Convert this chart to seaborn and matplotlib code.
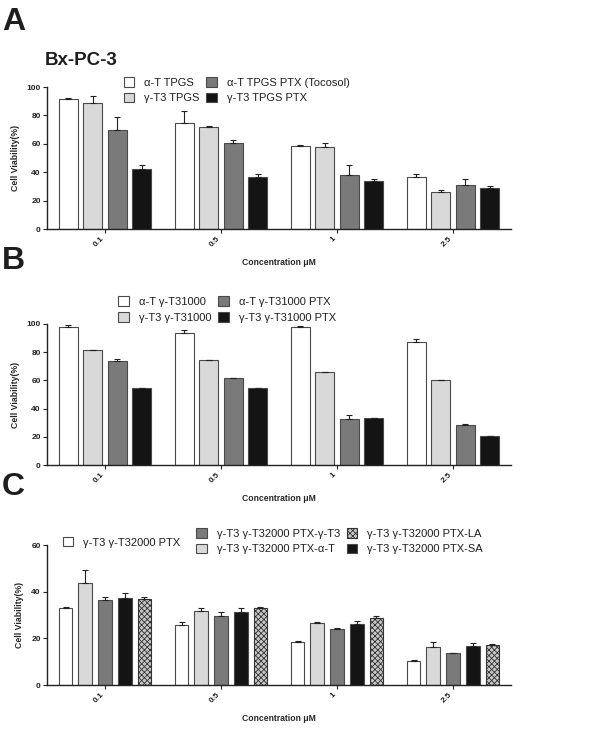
import numpy as np
import pandas as pd
import matplotlib
matplotlib.use("Agg")
import matplotlib.pyplot as plt
import seaborn as sns
from matplotlib.patches import Patch

# concentrations (x categories)
conc = ["0.1", "0.5", "1", "2.5"]

# Panel A - Bx-PC-3, TPGS formulations
a_names = ["α-T TPGS", "γ-T3 TPGS", "α-T TPGS PTX (Tocosol)", "γ-T3 TPGS PTX"]
a_mean = [[91.5, 75.0, 58.7, 36.4],
          [88.8, 71.6, 57.5, 26.0],
          [70.0, 60.8, 38.2, 30.8],
          [42.0, 36.4, 33.6, 29.2]]
a_top = [[92.5, 83.4, 59.2, 38.6],
         [93.7, 72.4, 60.5, 27.8],
         [79.2, 62.6, 45.3, 35.0],
         [45.3, 38.8, 35.5, 30.6]]

# Panel B - γ-T31000 formulations
b_names = ["α-T γ-T31000", "γ-T3 γ-T31000", "α-T γ-T31000 PTX", "γ-T3 γ-T31000 PTX"]
b_mean = [[98.1, 93.9, 98.1, 87.0],
          [81.4, 74.7, 65.7, 60.0],
          [73.8, 61.7, 32.9, 28.4],
          [54.8, 54.8, 33.6, 20.8]]
b_top = [[99.5, 95.7, 98.6, 89.1],
         [81.4, 74.7, 65.7, 60.0],
         [75.4, 61.7, 35.7, 28.8],
         [54.8, 54.8, 33.6, 20.8]]

# Panel C - γ-T32000 PTX combinations
c_names = ["γ-T3 γ-T32000 PTX", "γ-T3 γ-T32000 PTX-α-T", "γ-T3 γ-T32000 PTX-γ-T3",
           "γ-T3 γ-T32000 PTX-SA", "γ-T3 γ-T32000 PTX-LA"]
c_mean = [[32.9, 25.9, 18.3, 10.3],
          [43.7, 31.6, 26.6, 16.3],
          [36.4, 29.6, 23.9, 13.6],
          [37.4, 31.4, 26.3, 16.7],
          [36.7, 33.0, 28.9, 17.3]]
c_top = [[33.6, 26.9, 19.0, 10.7],
         [49.4, 32.9, 27.0, 18.3],
         [37.6, 31.4, 24.3, 13.9],
         [39.4, 33.1, 27.4, 18.0],
         [37.7, 33.3, 29.6, 17.7]]

white, light, mid, dark = "#ffffff", "#d9d9d9", "#7a7a7a", "#141414"
checker = "#c8c8c8"
edge = "#4a4a4a"
txt = "#1e1e1e"

sns.set_style("ticks")
plt.rcParams["font.family"] = ["Liberation Sans", "DejaVu Sans"]
plt.rcParams["hatch.linewidth"] = 0.6
plt.rcParams["text.color"] = txt


def long_df(names, means):
    rows = []
    for name, vals in zip(names, means):
        for c, v in zip(conc, vals):
            rows.append({"conc": c, "value": v, "group": name})
    return pd.DataFrame(rows)


def draw(ax, names, means, tops, colors, width, gap, ymax, ystep):
    df = long_df(names, means)
    sns.barplot(data=df, x="conc", y="value", hue="group", order=conc,
                hue_order=names, palette=colors, width=width, gap=gap,
                saturation=1, edgecolor=edge, linewidth=0.8, errorbar=None,
                legend=False, ax=ax)
    # upper error bars only, as in the original figure
    for cont, top in zip(ax.containers, tops):
        xs = [p.get_x() + p.get_width() / 2 for p in cont]
        hs = np.array([p.get_height() for p in cont])
        up = np.array(top) - hs
        ax.errorbar(xs, hs, yerr=[np.zeros_like(up), up], fmt="none",
                    ecolor="#222222", elinewidth=0.8, capsize=2.3,
                    capthick=0.8, zorder=1)
    ax.set_ylim(0, ymax)
    ax.set_xlim(-0.5, 3.5)
    ax.set_yticks(np.arange(0, ymax + 1, ystep))
    ax.set_ylabel("Cell Viability(%)", fontsize=6.3, fontweight="bold", labelpad=5)
    ax.set_xlabel("Concentration μM", fontsize=6.2, fontweight="bold", labelpad=7)
    ax.tick_params(axis="both", length=3, width=0.8, labelsize=6, pad=1.5,
                   colors="#222222")
    for lab in ax.get_yticklabels():
        lab.set_fontweight("bold")
    for lab in ax.get_xticklabels():
        lab.set_fontweight("bold")
        lab.set_rotation(45)
        lab.set_ha("right")
    sns.despine(ax=ax)
    for s in ["left", "bottom"]:
        ax.spines[s].set_linewidth(1.0)
        ax.spines[s].set_color("#222222")


fig = plt.figure(figsize=(6.04, 7.39), dpi=100)
W = 604.0
H = 739.0
L, AW = 47 / W, 464 / W

axA = fig.add_axes([L, 1 - 229 / H, AW, 142 / H])
axB = fig.add_axes([L, 1 - 465 / H, AW, 141 / H])
axC = fig.add_axes([L, 1 - 685 / H, AW, 140 / H])

draw(axA, a_names, a_mean, a_top, [white, light, mid, dark], 0.84, 0.22, 100, 20)
draw(axB, b_names, b_mean, b_top, [white, light, mid, dark], 0.84, 0.22, 100, 20)
draw(axC, c_names, c_mean, c_top, [white, light, mid, dark, checker], 0.85, 0.3, 60, 20)

for p in axC.containers[4]:
    p.set_hatch("xxxxxx")
    p.set_edgecolor("#333333")

leg_kw = dict(frameon=False, fontsize=8, handlelength=0.95, handleheight=0.95,
              handletextpad=0.9, labelspacing=0.45, columnspacing=0.6, borderpad=0)


def handles(colors, hatches=None):
    out = []
    for i, c in enumerate(colors):
        h = hatches[i] if hatches else None
        out.append(Patch(facecolor=c, edgecolor=edge if not h else "#333333",
                         linewidth=0.8, hatch=h))
    return out


axA.legend(handles([white, light, mid, dark]), a_names, ncol=2,
           loc="upper left", bbox_to_anchor=(0.153, 1.11), **leg_kw)
axB.legend(handles([white, light, mid, dark]), b_names, ncol=2,
           loc="upper left", bbox_to_anchor=(0.142, 1.235), **leg_kw)

leg1 = axC.legend(handles([white]), [c_names[0]], loc="center left",
                  bbox_to_anchor=(0.022, 1.02), **leg_kw)
axC.add_artist(leg1)
axC.legend(handles([mid, light, checker, dark], [None, None, "xxxxxx", None]),
           [c_names[2], c_names[1], c_names[4], c_names[3]], ncol=2,
           loc="upper left", bbox_to_anchor=(0.31, 1.16), **leg_kw)

fig.text(2 / W, 1 - 30 / H, "A", fontsize=23, fontweight="bold")
fig.text(2 / W, 1 - 269 / H, "B", fontsize=23, fontweight="bold")
fig.text(2 / W, 1 - 495 / H, "C", fontsize=23, fontweight="bold")
fig.text(45 / W, 1 - 65 / H, "Bx-PC-3", fontsize=13.5, fontweight="bold")

plt.savefig("out.png", dpi=100, facecolor="white")
